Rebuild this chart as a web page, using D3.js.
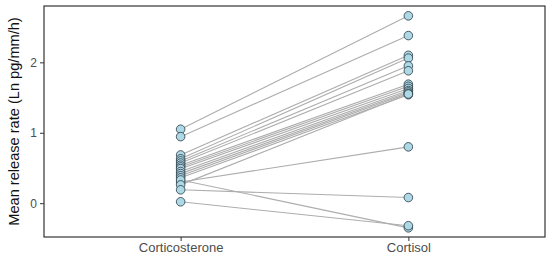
<!DOCTYPE html>
<html><head><meta charset="utf-8">
<script src="https://cdn.jsdelivr.net/npm/d3@7"></script>
<style>body{margin:0;background:#fff}svg{display:block}</style>
</head><body>
<svg id="c" width="550" height="259"></svg>
<script>
const categories = ["Corticosterone", "Cortisol"];
const corticosterone = [1.05, 0.945, 0.685, 0.63, 0.60, 0.57, 0.54, 0.515, 0.49, 0.45, 0.42, 0.39, 0.36, 0.30, 0.33, 0.26, 0.19, 0.02];
const cortisol       = [2.66, 2.38, 2.10, 2.06, 1.95, 1.88, 1.69, 1.66, 1.63, 1.60, 1.58, 1.56, 1.54, 0.80, -0.35, 1.55, 0.08, -0.32];
const yTicks = [0, 1, 2];
const yLabel = "Mean release rate (Ln pg/mm/h)";

const svg = d3.select("#c");
const m = {l: 44, r: 5, t: 6, b: 22};
const W = 550, H = 259;
const x = d3.scalePoint().domain(categories).range([m.l, W - m.r]).padding(0.6);
const y = d3.scaleLinear().domain([-0.48, 2.8]).range([H - m.b, m.t]);

const pairs = corticosterone.map((v, i) => [v, cortisol[i]]);

svg.append("g").selectAll("line").data(pairs).join("line")
  .attr("x1", x(categories[0])).attr("x2", x(categories[1]))
  .attr("y1", d => y(d[0])).attr("y2", d => y(d[1]))
  .attr("stroke", "#adadad").attr("stroke-width", 1.1);

const pts = [];
pairs.forEach(d => { pts.push([categories[0], d[0]]); pts.push([categories[1], d[1]]); });
svg.append("g").selectAll("circle").data(pts).join("circle")
  .attr("cx", d => x(d[0])).attr("cy", d => y(d[1])).attr("r", 4.3)
  .attr("fill", "#add8e6").attr("stroke", "#2b3a42").attr("stroke-width", 0.8);

svg.append("rect").attr("x", m.l).attr("y", m.t)
  .attr("width", W - m.r - m.l).attr("height", H - m.b - m.t)
  .attr("fill", "none").attr("stroke", "#222").attr("stroke-width", 1.1);

const ya = svg.append("g").attr("transform", `translate(${m.l},0)`)
  .call(d3.axisLeft(y).tickValues(yTicks).tickSize(4).tickPadding(3).tickFormat(d3.format("d")));
ya.select(".domain").remove();
ya.selectAll("line").attr("stroke", "#333");
ya.selectAll("text").attr("fill", "#4d4d4d").style("font", "12px 'Liberation Sans', Arial, sans-serif");

const xa = svg.append("g").attr("transform", `translate(0,${H - m.b})`)
  .call(d3.axisBottom(x).tickSize(4).tickPadding(2));
xa.select(".domain").remove();
xa.selectAll("line").attr("stroke", "#333");
xa.selectAll("text").attr("fill", "#4d4d4d").style("font", "13px 'Liberation Sans', Arial, sans-serif");

svg.append("text").attr("transform", `translate(19,${(m.t + H - m.b) / 2}) rotate(-90)`)
  .attr("text-anchor", "middle").attr("fill", "#111")
  .style("font", "14.6px 'Liberation Sans', Arial, sans-serif").text(yLabel);
</script>
</body></html>
